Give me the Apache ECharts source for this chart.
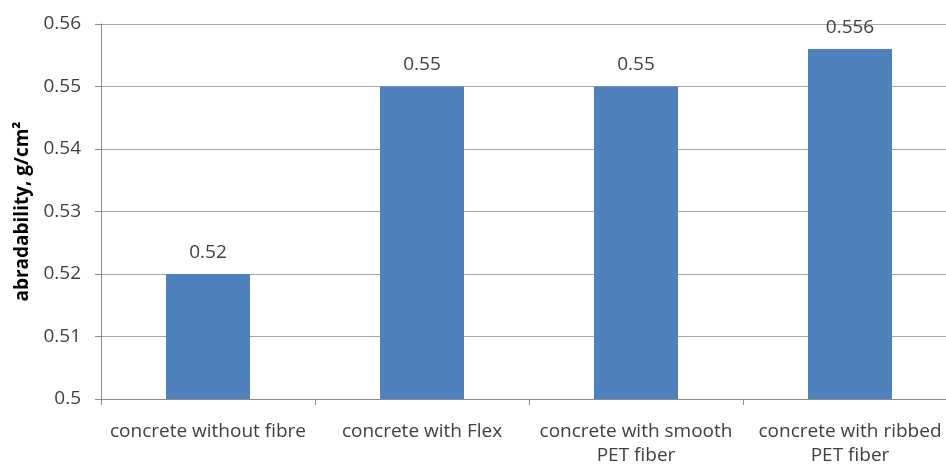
<!DOCTYPE html>
<html>
<head>
<meta charset="utf-8">
<script src="https://cdn.jsdelivr.net/npm/echarts@6/dist/echarts.min.js"></script>
<style>
  html, body { margin: 0; padding: 0; background: #ffffff; overflow: hidden; }
  /* the plot runs slightly past the right edge of the window */
  #chart { width: 957px; height: 468px; }
</style>
</head>
<body>
<div id="chart"></div>
<script>
// Abradability of concrete mixes
const categories = [
  'concrete without fibre',
  'concrete with Flex',
  'concrete with smooth\nPET fiber',
  'concrete with ribbed\nPET fiber'
];
const abradability = [0.52, 0.55, 0.55, 0.556];
const yTicks = { min: 0.5, max: 0.56, interval: 0.01 };

const FONT = '"Open Sans", Lato, sans-serif';
const TEXT = '#404040';
const AXIS = '#8c8c8c';

const chart = echarts.init(document.getElementById('chart'));
chart.setOption({
  animation: false,
  backgroundColor: '#ffffff',
  grid: { left: 101, right: 0, top: 24, bottom: 62, containLabel: false },
  xAxis: {
    type: 'category',
    data: categories,
    axisLine: { lineStyle: { color: AXIS, width: 1 } },
    axisTick: { show: true, length: 6, lineStyle: { color: AXIS } },
    axisLabel: {
      color: TEXT, fontFamily: FONT, fontSize: 19, margin: 21,
      lineHeight: 24, interval: 0
    }
  },
  yAxis: {
    type: 'value',
    min: yTicks.min, max: yTicks.max, interval: yTicks.interval,
    name: 'abradability, g/cm²',
    nameLocation: 'middle',
    nameGap: 64,
    nameTextStyle: { color: '#000000', fontFamily: FONT, fontSize: 19, fontWeight: 'bold' },
    axisLine: { show: true, lineStyle: { color: AXIS, width: 1 } },
    axisTick: { show: true, length: 6, lineStyle: { color: AXIS } },
    splitLine: { lineStyle: { color: '#a6a6a6', width: 1 } },
    axisLabel: {
      color: TEXT, fontFamily: FONT, fontSize: 19, margin: 20,
      formatter: v => String(Math.round(v * 100) / 100)
    }
  },
  series: [{
    type: 'bar',
    data: abradability,
    barWidth: 84,
    itemStyle: { color: '#4f81bd' },
    label: {
      show: true, position: 'top', distance: 12,
      color: TEXT, fontFamily: FONT, fontSize: 19,
      formatter: p => String(p.value)
    }
  }]
});
</script>
</body>
</html>
